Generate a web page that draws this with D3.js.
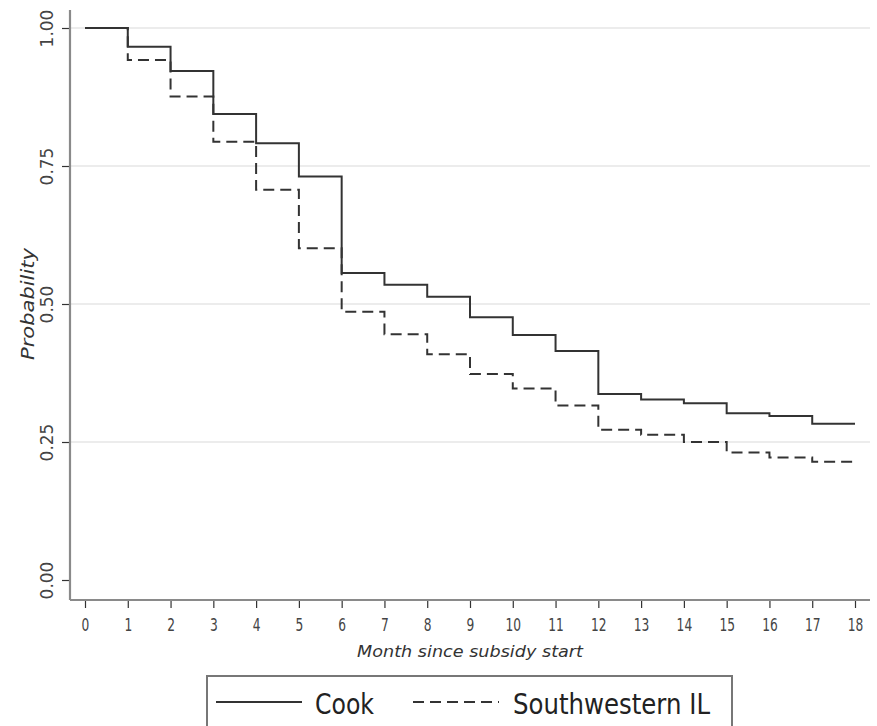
<!DOCTYPE html>
<html>
<head>
<meta charset="utf-8">
<script src="https://cdn.jsdelivr.net/npm/d3@7"></script>
<style>
  html, body { margin: 0; padding: 0; background: #fff; }
  svg { display: block; }
</style>
</head>
<body>
<svg id="chart" width="877" height="726"></svg>
<script>
// ---- data ----
const months = [0,1,2,3,4,5,6,7,8,9,10,11,12,13,14,15,16,17,18];
// survival probability on each interval [m, m+1)
const cookValues = [1.000,0.966,0.922,0.844,0.791,0.731,0.556,0.535,0.513,0.476,0.444,0.415,0.337,0.327,0.320,0.302,0.297,0.283];
const swValues   = [1.000,0.942,0.876,0.794,0.707,0.601,0.486,0.445,0.409,0.373,0.347,0.316,0.272,0.263,0.250,0.231,0.222,0.214];
const seriesNames = ["Cook", "Southwestern IL"];
const yTicks = [0, 0.25, 0.5, 0.75, 1];
const xTitle = "Month since subsidy start";
const yTitle = "Probability";

// ---- layout ----
const svg = d3.select("#chart");
const x = d3.scaleLinear().domain([0, 18]).range([85, 855]);
const y = d3.scaleLinear().domain([0, 1]).range([580, 28]);
const axisColor = "#8a8a8a";
const textColor = "#333";
const lineColor = "#333";

// gridlines
svg.append("g").selectAll("line").data(yTicks.filter(d => d > 0)).join("line")
  .attr("x1", 71).attr("x2", 870)
  .attr("y1", d => y(d)).attr("y2", d => y(d))
  .attr("stroke", "#e6e6e6").attr("stroke-width", 1.5);

// y axis
const yAxis = d3.axisLeft(y).tickValues(yTicks).tickFormat(d3.format(".2f")).tickSize(8).tickPadding(0);
const gy = svg.append("g").attr("transform", "translate(70,0)").call(yAxis);
gy.select(".domain").remove();
gy.selectAll(".tick line").attr("stroke", textColor).attr("stroke-width", 1.2);
gy.selectAll(".tick text")
  .attr("x", null).attr("dy", null)
  .attr("transform", "translate(-23,0) rotate(-90)")
  .attr("text-anchor", "middle")
  .attr("dominant-baseline", "central")
  .attr("fill", "#444")
  .style("font-family", "'DejaVu Sans', sans-serif")
  .style("font-size", "17px");
svg.append("line").attr("x1", 70).attr("x2", 70).attr("y1", 10).attr("y2", 600)
  .attr("stroke", axisColor).attr("stroke-width", 2.2);

// x axis
const xAxis = d3.axisBottom(x).tickValues(months).tickFormat(d3.format("d")).tickSize(8).tickPadding(0);
const gx = svg.append("g").attr("transform", "translate(0,600)").call(xAxis);
gx.select(".domain").remove();
gx.selectAll(".tick line").attr("stroke", textColor).attr("stroke-width", 1.2);
gx.selectAll(".tick text")
  .attr("y", null).attr("dy", null)
  .attr("transform", "translate(0,31) scale(0.72,1)")
  .attr("text-anchor", "middle")
  .attr("fill", "#444")
  .style("font-family", "'DejaVu Sans', sans-serif")
  .style("font-size", "17px");
svg.append("line").attr("x1", 70).attr("x2", 870).attr("y1", 600).attr("y2", 600)
  .attr("stroke", axisColor).attr("stroke-width", 2.2);

// axis titles
svg.append("text")
  .attr("x", 357).attr("y", 657)
  .attr("textLength", 226).attr("lengthAdjust", "spacingAndGlyphs")
  .attr("fill", textColor)
  .style("font-family", "'DejaVu Sans', sans-serif")
  .style("font-style", "italic")
  .style("font-size", "16px")
  .text(xTitle);

svg.append("text")
  .attr("transform", "translate(34,360) rotate(-90)")
  .attr("textLength", 112).attr("lengthAdjust", "spacingAndGlyphs")
  .attr("fill", textColor)
  .style("font-family", "'DejaVu Sans', sans-serif")
  .style("font-style", "italic")
  .style("font-size", "17px")
  .text(yTitle);

// survival step lines
const toPoints = vals => vals.map((v, i) => [months[i], v]).concat([[months[vals.length], vals[vals.length - 1]]]);
const line = d3.line().x(d => x(d[0])).y(d => y(d[1])).curve(d3.curveStepAfter);

svg.append("path").datum(toPoints(swValues))
  .attr("d", line).attr("fill", "none")
  .attr("stroke", lineColor).attr("stroke-width", 2)
  .attr("stroke-dasharray", "11,6");
svg.append("path").datum(toPoints(cookValues))
  .attr("d", line).attr("fill", "none")
  .attr("stroke", lineColor).attr("stroke-width", 2);

// legend
const lg = svg.append("g");
lg.append("rect").attr("x", 207).attr("y", 676).attr("width", 525).attr("height", 70)
  .attr("fill", "#fff").attr("stroke", "#777").attr("stroke-width", 2);
lg.append("line").attr("x1", 216).attr("x2", 302).attr("y1", 702).attr("y2", 702)
  .attr("stroke", lineColor).attr("stroke-width", 2);
lg.append("line").attr("x1", 413).attr("x2", 499).attr("y1", 702).attr("y2", 702)
  .attr("stroke", lineColor).attr("stroke-width", 2).attr("stroke-dasharray", "11,6");
lg.append("text").attr("x", 315).attr("y", 714)
  .attr("textLength", 59).attr("lengthAdjust", "spacingAndGlyphs")
  .attr("fill", "#222")
  .style("font-family", "'DejaVu Sans', sans-serif").style("font-size", "28px")
  .text(seriesNames[0]);
lg.append("text").attr("x", 513).attr("y", 714)
  .attr("textLength", 197).attr("lengthAdjust", "spacingAndGlyphs")
  .attr("fill", "#222")
  .style("font-family", "'DejaVu Sans', sans-serif").style("font-size", "28px")
  .text(seriesNames[1]);
</script>
</body>
</html>
